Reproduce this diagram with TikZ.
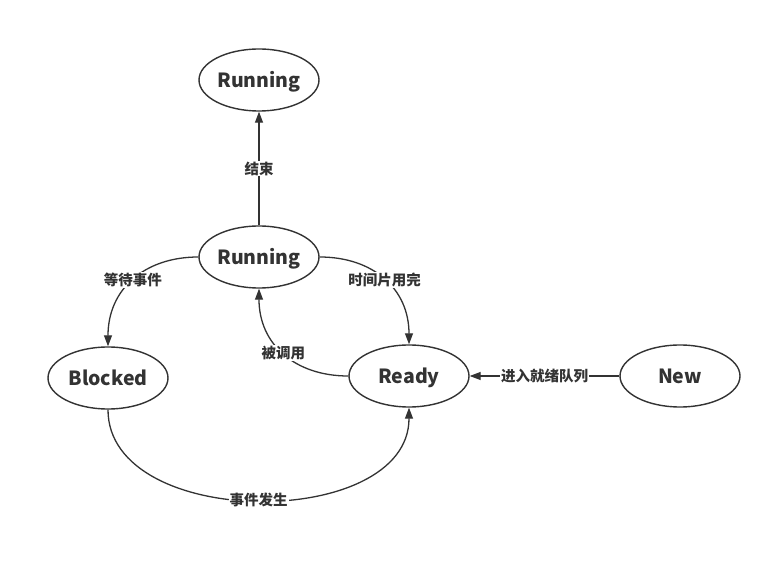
\documentclass[tikz,border=0pt]{standalone}
\usepackage{fontspec}
\setmainfont{Noto Sans CJK SC}
\usetikzlibrary{shapes.geometric,arrows.meta}
\definecolor{ink}{HTML}{333333}
\begin{document}
\begin{tikzpicture}[x=1pt,y=-1pt,
  state/.style={ellipse,draw=ink,line width=1.4pt,minimum width=120pt,minimum height=62pt,inner sep=0pt,
    text height=18pt,text depth=2pt,
    font=\fontsize{19.5}{19.5}\selectfont\bfseries,text=ink},
  edge/.style={draw=ink,line width=1.3pt,-{Triangle[length=11pt,width=8pt]}},
  lab/.style={fill=white,inner sep=1pt,font=\fontsize{14.5}{14.5}\selectfont\bfseries,text=ink}]
\useasboundingbox[fill=white] (0,0) rectangle (772,561);
\node[state] (run1) at (259,80) {Running};
\node[state] (run2) at (259,257) {Running};
\node[state] (blk) at (108,378) {Blocked};
\node[state] (rdy) at (409,376) {Ready};
\node[state] (new) at (680,376) {New};
\draw[edge] (run2.north) -- node[lab] {结束} (run1.south);
\draw[edge] (run2.west) .. controls +(-54,0) and +(0,-57) .. node[lab,pos=0.5] {等待事件} (blk.north);
\draw[edge] (run2.east) .. controls +(54,0) and +(0,-55) .. node[lab,pos=0.5] {时间片用完} (rdy.north);
\draw[edge] (rdy.west) .. controls +(-54,0) and +(0,55) .. node[lab,pos=0.5] {被调用} (run2.south);
\draw[edge] (blk.south) .. controls +(0,121) and +(0,123) .. node[lab,pos=0.5] {事件发生} (rdy.south);
\draw[edge] (new.west) -- node[lab] {进入就绪队列} (rdy.east);
\end{tikzpicture}
\end{document}
